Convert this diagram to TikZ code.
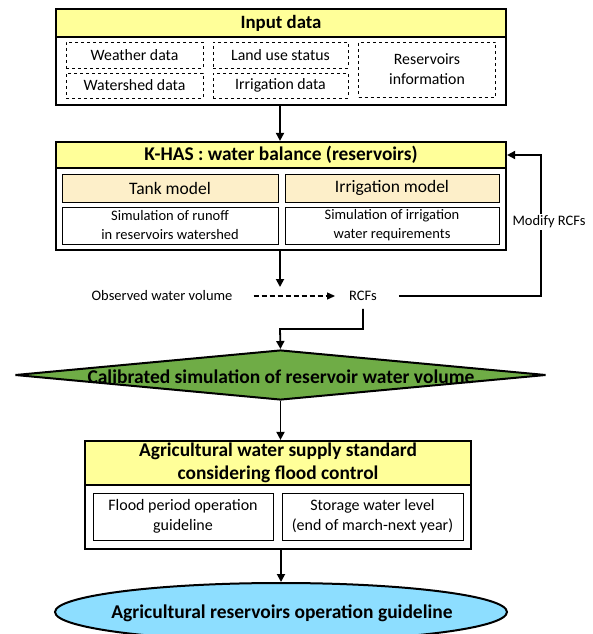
\documentclass[tikz,border=0pt]{standalone}
\usepackage{fontspec}
\setmainfont{Carlito}
\usepackage{tikz}
\usetikzlibrary{arrows.meta,positioning,shapes.geometric}
\definecolor{khInk}{HTML}{000000}
\definecolor{khBand}{HTML}{FFFF99}
\definecolor{khModel}{HTML}{FDEFC9}
\definecolor{khGreen}{HTML}{6FAC46}
\definecolor{khBlue}{HTML}{8DDEFF}
\tikzset{
  % Outer frame of a block
  frame/.style={rectangle,draw=khInk,line width=2.2pt,inner sep=0pt,fill=white},
  % Yellow title band
  band/.style={rectangle,draw=khInk,line width=2.2pt,inner sep=0pt,
    fill=khBand,align=center,font=\fontsize{19.4}{23}\selectfont\bfseries},
  % Dashed input item
  dbox/.style={rectangle,draw=khInk,dashed,line width=0.7pt,inner sep=0pt,
    align=center,font=\fontsize{15.8}{20}\selectfont},
  % Model box (beige)
  mbox/.style={rectangle,draw=khInk,line width=0.9pt,inner sep=0pt,
    fill=khModel,align=center,font=\fontsize{17.5}{21}\selectfont},
  % Plain step box
  sbox/.style={rectangle,draw=khInk,line width=0.9pt,inner sep=0pt,
    align=center,font=\fontsize{14.5}{19}\selectfont},
  % Free label
  lbl/.style={inner sep=0pt,font=\fontsize{14.5}{18}\selectfont},
  % Big bold text
  btxt/.style={inner sep=0pt,font=\fontsize{19.5}{23}\selectfont\bfseries},
  % Arrows
  arr/.style={-{Triangle[length=8pt,width=8pt]},line width=1.8pt,color=khInk},
  darr/.style={-{Triangle[length=8pt,width=7pt]},line width=1.3pt,
    dash pattern=on 5pt off 3pt,color=khInk},
}

\begin{document}
\begin{tikzpicture}[x=1pt,y=-1pt]
  \useasboundingbox (0,0) rectangle (592,634);

  % Input data
  \node[frame,minimum width=450pt,minimum height=96pt] (inp) at (281,57) {};
  \node[band,minimum width=450pt,minimum height=28pt,font=\fontsize{18.8}{22}\selectfont\bfseries] (inpT) at (281,23) {Input data};
  \node[dbox,minimum width=137pt,minimum height=26pt] (wea) at (134.5,55) {Weather data};
  \node[dbox,minimum width=137pt,minimum height=25pt] (wsd) at (134.5,85.5) {Watershed data};
  \node[dbox,minimum width=135pt,minimum height=26pt] (lus) at (280.5,55) {Land use status};
  \node[dbox,minimum width=135pt,minimum height=25pt] (irr) at (280.5,85.5) {Irrigation data};
  \node[dbox,minimum width=137pt,minimum height=55pt] (res) at (427,69.5) {Reservoirs\\information};

  % K-HAS water balance
  \node[frame,minimum width=450pt,minimum height=108pt] (kh) at (281,196) {};
  \node[band,minimum width=450pt,minimum height=26pt] (khT) at (281,155) {K-HAS : water balance (reservoirs)};
  \node[mbox,minimum width=216pt,minimum height=28pt] (tank) at (170,188) {Tank model};
  \node[mbox,minimum width=214pt,minimum height=28pt] (irm) at (392,188) {Irrigation model};
  \node[sbox,minimum width=216pt,minimum height=37pt] (run) at (170,225.5) {Simulation of runoff\\in reservoirs watershed};
  \node[sbox,minimum width=214pt,minimum height=37pt] (req) at (392,225.5) {Simulation of irrigation\\water requirements};

  % Calibration
  \node[lbl] (obs) at (162,296) {Observed water volume};
  \node[lbl] (rcf) at (363,296) {RCFs};
  \coordinate (kend) at (280,287);
  \coordinate (fb) at (541,296);
  \coordinate (bend) at (280,329);

  \draw[arr] (inp.south -| kend) -- (khT.north -| kend);
  \draw[arr] (kh.south -| kend) -- (kend);
  \draw[darr,shorten <=21pt,shorten >=14pt] (obs.east) -- (rcf.west);
  \draw[arr,shorten <=22pt] (rcf.east) -- (fb) |- (khT.east);
  \node[lbl,fill=white,inner sep=2pt] (mod) at (549,222) {Modify RCFs};

  % Calibrated simulation
  \node[diamond,draw=khInk,line width=2pt,fill=khGreen,inner sep=0pt,
    minimum width=531pt,minimum height=50pt] (cal) at (280.5,375) {};
  \node[btxt] (calT) at (281,377) {Calibrated simulation of reservoir water volume};
  \draw[arr,shorten <=8pt] (rcf.south) |- (bend) -- (cal.north);

  % Water supply standard
  \node[frame,minimum width=386pt,minimum height=108pt] (ag) at (278,495) {};
  \node[band,minimum width=386pt,minimum height=44pt] (agT) at (278,463)
    {Agricultural water supply standard\\considering flood control};
  \node[sbox,minimum width=180pt,minimum height=47pt,font=\fontsize{16}{20}\selectfont] (fld) at (183,516.5)
    {Flood period operation\\guideline};
  \node[sbox,minimum width=181pt,minimum height=47pt,font=\fontsize{16}{20}\selectfont] (sto) at (372.5,516.5)
    {Storage water level\\(end of march-next year)};
  \draw[arr] (cal.south) -- (agT.north -| cal.south);

  % Operation guideline
  \node[ellipse,draw=khInk,line width=2pt,fill=khBlue,inner sep=0pt,
    minimum width=452pt,minimum height=58pt] (guide) at (281,612) {};
  \node[btxt] (guideT) at (282,613) {Agricultural reservoirs operation guideline};
  \draw[arr] (ag.south -| guide.north) -- (guide.north);
\end{tikzpicture}
\end{document}
